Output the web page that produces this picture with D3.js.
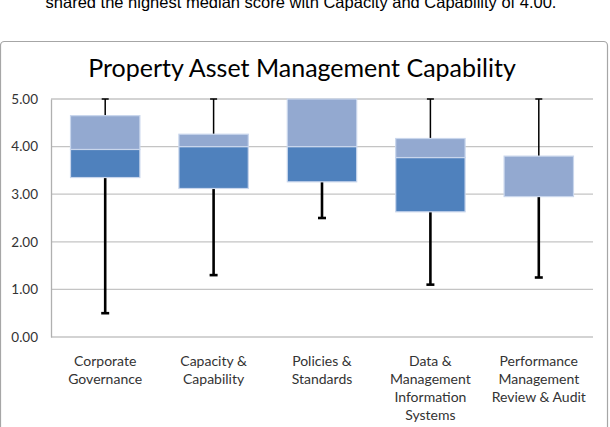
<!DOCTYPE html>
<html>
<head>
<meta charset="utf-8">
<script src="https://cdn.jsdelivr.net/npm/d3@7"></script>
<style>
  body { margin: 0; background: #fff; }
  svg { display: block; }
</style>
</head>
<body>
<div id="viz"></div>
<script>
"use strict";

const w = 610;
const h = 427;

// box plot data
const categories = [
  ["Corporate", "Governance"],
  ["Capacity &", "Capability"],
  ["Policies &", "Standards"],
  ["Data &", "Management", "Information", "Systems"],
  ["Performance", "Management", "Review & Audit"]
];
const mins    = [0.50, 1.30, 2.50, 1.10, 1.25];
const q1s     = [3.35, 3.12, 3.26, 2.63, 2.95];
const medians = [3.94, 4.00, 4.00, 3.77, 2.95];
const q3s     = [4.65, 4.26, 5.00, 4.17, 3.80];
const maxs    = [5.00, 5.00, 5.00, 5.00, 5.00];
const yTicks  = [0, 1, 2, 3, 4, 5];

const svg = d3.select("#viz")
  .append("svg")
  .attr("width", w)
  .attr("height", h)

// line of report text, cut off by the top edge as in the source
svg.append("text")
  .attr("x", 301)
  .attr("y", 8)
  .attr("text-anchor", "middle")
  .style("font-family", "'Liberation Sans', Arial, sans-serif")
  .style("font-size", "16.5px")
  .attr("fill", "#000")
  .text("shared the highest median score with Capacity and Capability of 4.00.")

// chart frame
svg.append("rect")
  .attr("x", 0.5)
  .attr("y", 41.5)
  .attr("width", 607)
  .attr("height", 420)
  .attr("rx", 4)
  .attr("fill", "#fff")
  .attr("stroke", "#a6a6a6")
  .attr("stroke-width", 1.2)

svg.append("text")
  .attr("x", 302)
  .attr("y", 77)
  .attr("text-anchor", "middle")
  .style("font-family", "Lato, 'Open Sans', sans-serif")
  .style("font-size", "25px")
  .attr("fill", "#000")
  .text("Property Asset Management Capability")

const y = d3.scaleLinear()
  .domain([0, 5])
  .range([337, 99])

const x = d3.scaleBand()
  .domain(d3.range(categories.length))
  .range([51, 593])
  .paddingInner(0.36)
  .paddingOuter(0.18)

// gridlines
svg.append("g")
  .selectAll("line")
  .data(yTicks)
  .join("line")
  .attr("x1", 51)
  .attr("x2", 593)
  .attr("y1", d => y(d))
  .attr("y2", d => y(d))
  .attr("stroke", "#c4c4c4")
  .attr("stroke-width", 1.3)

// y axis
const yAxis = svg.append("g")
  .attr("transform", "translate(51,0)")
  .call(d3.axisLeft(y).tickValues(yTicks).tickFormat(d3.format(".2f")).tickSize(0).tickPadding(13))
yAxis.select(".domain").attr("stroke", "#b0b0b0").attr("stroke-width", 1.3)
yAxis.selectAll("text")
  .style("font-family", "Lato, 'Open Sans', sans-serif")
  .style("font-size", "13.5px")
  .attr("fill", "#333")

const boxes = svg.append("g")
  .selectAll("g")
  .data(categories.map((c, i) => i))
  .join("g")

const cx = i => x(i) + x.bandwidth() / 2

// lower whisker
boxes.append("line")
  .attr("x1", cx).attr("x2", cx)
  .attr("y1", i => y(q1s[i])).attr("y2", i => y(mins[i]))
  .attr("stroke", "#000").attr("stroke-width", 2.6)
boxes.append("line")
  .attr("x1", i => cx(i) - 4).attr("x2", i => cx(i) + 4)
  .attr("y1", i => y(mins[i])).attr("y2", i => y(mins[i]))
  .attr("stroke", "#000").attr("stroke-width", 2.6)

// upper whisker
boxes.filter(i => maxs[i] > q3s[i]).append("line")
  .attr("x1", cx).attr("x2", cx)
  .attr("y1", i => y(q3s[i])).attr("y2", i => y(maxs[i]))
  .attr("stroke", "#000").attr("stroke-width", 1.5)
boxes.filter(i => maxs[i] > q3s[i]).append("line")
  .attr("x1", i => cx(i) - 3.5).attr("x2", i => cx(i) + 3.5)
  .attr("y1", i => y(maxs[i])).attr("y2", i => y(maxs[i]))
  .attr("stroke", "#000").attr("stroke-width", 1.5)

// lower box (q1 -> median)
boxes.filter(i => medians[i] > q1s[i]).append("rect")
  .attr("x", i => x(i))
  .attr("width", x.bandwidth())
  .attr("y", i => y(medians[i]))
  .attr("height", i => y(q1s[i]) - y(medians[i]))
  .attr("fill", "#4f81bd")
  .attr("stroke", "#c9d6ec")
  .attr("stroke-width", 1.2)

// upper box (median -> q3)
boxes.append("rect")
  .attr("x", i => x(i))
  .attr("width", x.bandwidth())
  .attr("y", i => y(q3s[i]))
  .attr("height", i => y(medians[i]) - y(q3s[i]))
  .attr("fill", "#93a9d0")
  .attr("stroke", "#c9d6ec")
  .attr("stroke-width", 1.2)

// category labels
const labels = svg.append("g")
  .selectAll("text")
  .data(categories)
  .join("text")
  .attr("x", (d, i) => cx(i))
  .attr("y", 366)
  .attr("text-anchor", "middle")
  .style("font-family", "Lato, 'Open Sans', sans-serif")
  .style("font-size", "14px")
  .attr("fill", "#333")

labels.selectAll("tspan")
  .data(d => d)
  .join("tspan")
  .attr("x", function() { return this.parentNode.getAttribute("x") })
  .attr("dy", (d, i) => i === 0 ? 0 : 18)
  .text(d => d)
</script>
</body>
</html>
